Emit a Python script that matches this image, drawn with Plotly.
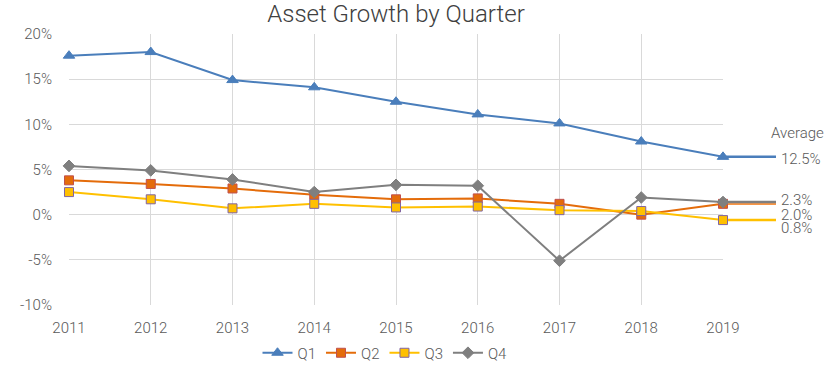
import plotly.graph_objects as go

years = [2011, 2012, 2013, 2014, 2015, 2016, 2017, 2018, 2019]
series_names = ["Q1", "Q2", "Q3", "Q4"]
q1 = [17.6, 18.0, 14.9, 14.1, 12.5, 11.1, 10.1, 8.1, 6.4]
q2 = [3.8, 3.4, 2.9, 2.2, 1.7, 1.8, 1.2, 0.0, 1.2]
q3 = [2.5, 1.7, 0.7, 1.2, 0.8, 0.9, 0.5, 0.4, -0.6]
q4 = [5.4, 4.9, 3.9, 2.5, 3.3, 3.2, -5.1, 1.9, 1.4]
avg_labels = ["12.5%", "2.0%", "0.8%", "2.3%"]
y_ticks = [-10, -5, 0, 5, 10, 15, 20]
y_tick_labels = ["-10%", "-5%", "0%", "5%", "10%", "15%", "20%"]

FONT = "Roboto Light, Roboto"
TXT = "#595959"

styles = [
    dict(color="#4A7EBB", symbol="triangle-up", fill="#4A7EBB", border="#4A7EBB", size=10, avg="#4A7EBB", shift=-2),
    dict(color="#E46C0A", symbol="square", fill="#E46C0A", border="#C0504D", size=9, avg="#F79646", shift=-11),
    dict(color="#FFC000", symbol="square", fill="#FFC000", border="#8064A2", size=9, avg="#FFC000", shift=-8),
    dict(color="#7F7F7F", symbol="diamond", fill="#7F7F7F", border="#7F7F7F", size=9, avg="#7F7F7F", shift=2),
]
data = [q1, q2, q3, q4]

fig = go.Figure()
for name, vals, st in zip(series_names, data, styles):
    fig.add_trace(go.Scatter(
        x=years, y=vals, name=name, mode="lines+markers",
        line=dict(color=st["color"], width=2),
        marker=dict(symbol=st["symbol"], size=st["size"], color=st["fill"],
                    line=dict(color=st["border"], width=1)),
        cliponaxis=False,
    ))

ext = 53 / 654
shapes = []
annotations = []
for vals, st, lab in zip(data, styles, avg_labels):
    shapes.append(dict(type="line", xref="paper", yref="y", x0=1, x1=1 + ext,
                       y0=vals[-1], y1=vals[-1], line=dict(color=st["avg"], width=2.5),
                       layer="below"))
    annotations.append(dict(xref="paper", yref="y", x=1 + 56 / 654, y=vals[-1],
                            text=lab, showarrow=False, xanchor="left", yanchor="middle",
                            yshift=st["shift"], font=dict(family=FONT, size=15, color=TXT, weight=300)))
annotations.append(dict(xref="paper", yref="y", x=1 + 74 / 654, y=q1[-1], yshift=24,
                        text="Average", showarrow=False, xanchor="center", yanchor="middle",
                        font=dict(family=FONT, size=15, color=TXT, weight=300)))

L, T, W, H = 69, 34, 654, 271
fig.update_layout(
    width=834, height=370,
    margin=dict(l=L, r=834 - L - W, t=T, b=370 - T - H, autoexpand=False),
    paper_bgcolor="white", plot_bgcolor="white",
    font=dict(family=FONT, color=TXT, size=15, weight=300),
    title=dict(text="Asset Growth by Quarter", x=(L + W / 2) / 834, xanchor="center",
               y=1 - 14 / 370, yanchor="middle",
               font=dict(family=FONT, size=24, color="#404040", weight=300)),
    xaxis=dict(range=[2011, 2019], tickvals=years, ticktext=[str(y) for y in years],
               showgrid=True, gridcolor="#D9D9D9", gridwidth=1, zeroline=False,
               showline=False, ticks="", automargin=False, ticklabelstandoff=12,
               tickfont=dict(size=15, color=TXT)),
    yaxis=dict(range=[-10, 20], tickvals=y_ticks, ticktext=y_tick_labels,
               showgrid=True, gridcolor="#D9D9D9", gridwidth=1, zeroline=False,
               showline=False, ticks="", automargin=False, ticklabelstandoff=16,
               tickfont=dict(size=15, color=TXT)),
    legend=dict(orientation="h", x=(385 - L) / W, xanchor="center", y=-48 / 271, yanchor="middle",
                font=dict(size=15, color=TXT), itemwidth=30, tracegroupgap=0),
    shapes=shapes, annotations=annotations, showlegend=True,
)

fig.write_html("out.html", config={"displayModeBar": False},
               post_script="document.body.style.margin='0';")
